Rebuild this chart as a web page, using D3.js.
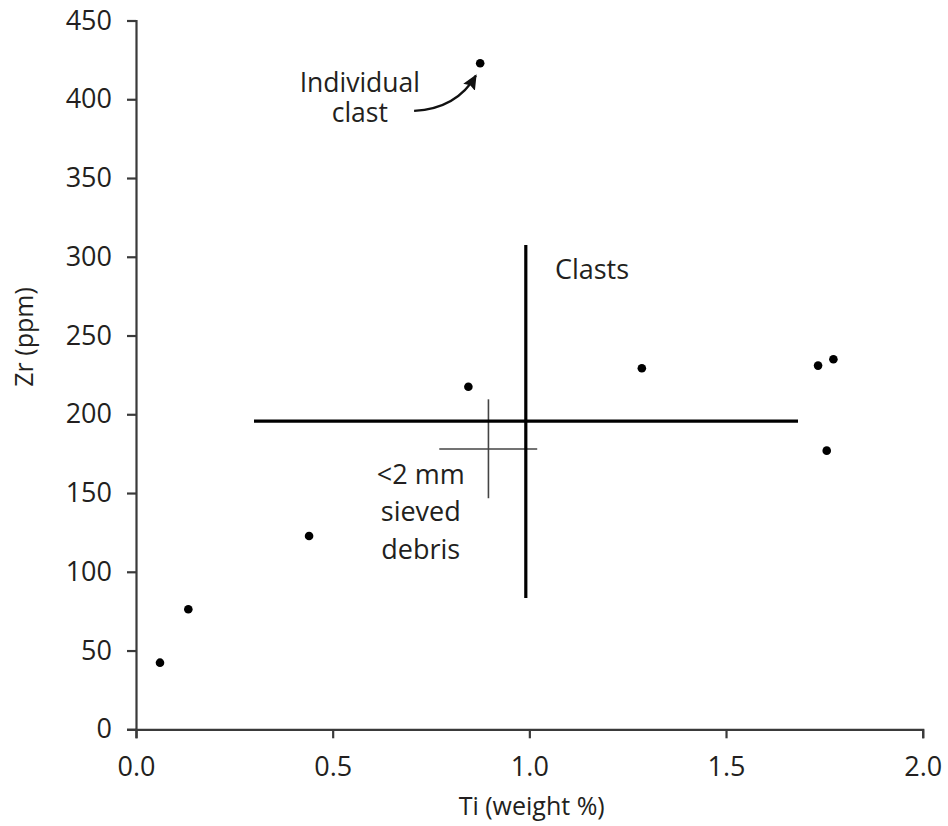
<!DOCTYPE html>
<html>
<head>
<meta charset="utf-8">
<script src="https://cdn.jsdelivr.net/npm/d3@7/dist/d3.min.js"></script>
<style>
  html, body { margin: 0; padding: 0; background: #fff; }
  svg { display: block; }
  text { font-family: "Open Sans", "Noto Sans", sans-serif; fill: #231f20; }
</style>
</head>
<body>
<script>
// ---- data ----
const tiValues = [0.061, 0.133, 0.44, 0.845, 1.286, 1.734, 1.773, 1.756, 0.875];
const zrValues = [42.3, 76.2, 122.7, 217.5, 229.2, 230.9, 234.9, 176.9, 422.9];

const xTicks = [0, 0.5, 1.0, 1.5, 2.0];
const yTicks = [0, 50, 100, 150, 200, 250, 300, 350, 400, 450];

// cross bars: [centerX, centerY, xLow, xHigh, yLow, yHigh]
const clastsCross = [0.991, 195.7, 0.30, 1.683, 83.4, 307.5];
const sievedCross = [0.896, 178.0, 0.771, 1.020, 146.7, 209.5];

const xLabel = "Ti (weight %)";
const yLabel = "Zr (ppm)";
const clastsLabel = ["Clasts"];
const clastsLabelPos = [1.065, 286];
const sievedLabel = ["<2 mm", "sieved", "debris"];
const sievedLabelPos = [0.724, 155.7];
const individualLabel = ["Individual", "clast"];
const individualLabelPos = [0.569, 404.5];
// arrow: start, control, end (data units)
const arrowPts = [[0.707, 392.6], [0.815, 394.0], [0.864, 415.0]];

// ---- layout ----
const W = 943, H = 826;
const svg = d3.select("body").append("svg").attr("width", W).attr("height", H);

const x = d3.scaleLinear().domain([0, 2.0]).range([136, 922.7]);
const y = d3.scaleLinear().domain([0, 450]).range([729.3, 20.5]);

const fmtX = d3.format(".1f");

const gx = svg.append("g").attr("transform", `translate(0,${y(0)})`)
  .call(d3.axisBottom(x).tickValues(xTicks).tickFormat(fmtX).tickSize(9).tickPadding(19));
const gy = svg.append("g").attr("transform", `translate(${x(0)},0)`)
  .call(d3.axisLeft(y).tickValues(yTicks).tickSize(9).tickPadding(15));

[gx, gy].forEach(g => {
  g.selectAll("path.domain").attr("stroke", "#3a3a3a").attr("stroke-width", 2.2);
  g.selectAll(".tick line").attr("stroke", "#3a3a3a").attr("stroke-width", 2.2);
  g.selectAll(".tick text").attr("font-size", 27).attr("fill", "#231f20")
    .style("font-family", '"Open Sans", "Noto Sans", sans-serif');
});

// axis labels
svg.append("text").attr("x", 531.7).attr("y", 815).attr("text-anchor", "middle")
  .attr("font-size", 25).text(xLabel);
svg.append("text").attr("transform", "translate(33,337) rotate(-90)")
  .attr("text-anchor", "middle").attr("font-size", 25).text(yLabel);

// crosses
function drawCross(c, width, color) {
  const g = svg.append("g").attr("stroke", color).attr("stroke-width", width);
  g.append("line").attr("x1", x(c[2])).attr("x2", x(c[3])).attr("y1", y(c[1])).attr("y2", y(c[1]));
  g.append("line").attr("x1", x(c[0])).attr("x2", x(c[0])).attr("y1", y(c[4])).attr("y2", y(c[5]));
}
drawCross(sievedCross, 1.6, "#444");
drawCross(clastsCross, 3.2, "#000");

// points
svg.append("g").selectAll("circle").data(tiValues).join("circle")
  .attr("cx", d => x(d)).attr("cy", (d, i) => y(zrValues[i]))
  .attr("r", 4.3).attr("fill", "#000");

// text labels
function multiLabel(lines, pos, anchor, lh, fs) {
  const t = svg.append("text").attr("font-size", fs).attr("text-anchor", anchor);
  lines.forEach((s, i) => {
    t.append("tspan").attr("x", x(pos[0])).attr("y", y(pos[1]) + i * lh).text(s);
  });
}
multiLabel(clastsLabel, clastsLabelPos, "start", 0, 27);
multiLabel(sievedLabel, sievedLabelPos, "middle", 37.3, 27);
multiLabel(individualLabel, individualLabelPos, "middle", 30, 26.5);

// arrow
svg.append("defs").append("marker")
  .attr("id", "ah").attr("viewBox", "0 0 10 10").attr("refX", 9).attr("refY", 5)
  .attr("markerWidth", 6.5).attr("markerHeight", 6.5).attr("markerUnits", "strokeWidth")
  .attr("orient", "auto")
  .append("path").attr("d", "M0,0.5 L10,5 L0,9.5 L1.5,5 Z").attr("fill", "#111");

const p = d3.path();
p.moveTo(x(arrowPts[0][0]), y(arrowPts[0][1]));
p.quadraticCurveTo(x(arrowPts[1][0]), y(arrowPts[1][1]), x(arrowPts[2][0]), y(arrowPts[2][1]));
svg.append("path").attr("d", p.toString()).attr("fill", "none")
  .attr("stroke", "#111").attr("stroke-width", 2.3).attr("marker-end", "url(#ah)");
</script>
</body>
</html>
